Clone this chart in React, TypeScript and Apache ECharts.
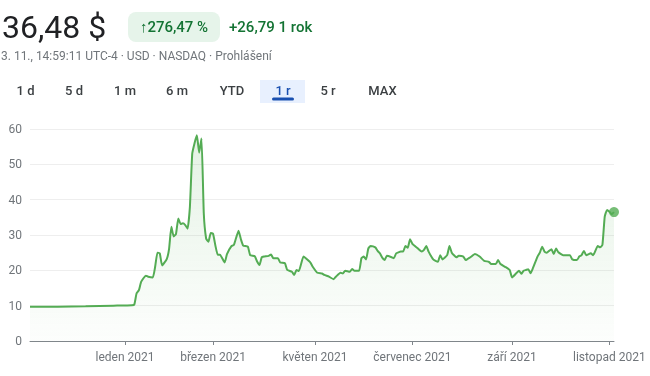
import React, { useEffect, useRef } from "react";
import * as echarts from "echarts";

// trading-day index counted from 3. 11. 2020 (index 0) to 3. 11. 2021 (index 252)
const DAY_IDX = [0,12,24,36,44,45,46,47,48,50,51,53,54,55,56,57,59,60,61,62,63,64,65,66,67,68,69,70,71,72,73,74,75,76,77,78,79,80,81,82,84,85,87,88,90,91,92,94,95,97,98,99,100,101,103,104,105,107,108,110,111,113,114,115,116,118,119,121,122,124,126,127,129,131,132,134,135,136,138,139,140,142,143,144,145,146,147,149,150,151,152,153,154,156,157,158,160,161,162,163,164,165,167,169,170,171,172,174,176,177,178,180,181,182,184,185,187,188,190,192,194,196,198,199,201,202,203,205,207,208,210,211,212,213,214,215,216,217,219,220,221,222,223,224,225,226,227,228,230,232,233,234,236,237,238,239,240,242,243,245,246,247,248,249,250,251,252];
const PRICE = [9.69,9.72,9.85,10.0,10.1,10.3,13.5,14.4,16.8,18.5,18.2,18.0,21.0,25.0,24.8,21.4,23.2,26.0,32.3,29.6,30.3,34.7,33.1,33.3,32.8,31.8,38.0,53.0,56.0,58.2,53.3,57.3,36.0,29.0,28.1,30.6,30.3,27.0,24.4,24.4,22.2,24.6,26.9,27.2,31.2,28.8,27.0,26.7,24.3,24.0,22.5,21.5,23.7,23.9,24.1,24.5,23.4,23.4,22.2,22.0,20.1,19.6,18.7,20.1,19.8,23.9,23.4,22.2,21.0,19.3,19.1,18.7,18.2,17.5,18.2,19.3,19.1,19.9,19.6,20.4,19.9,19.9,23.4,23.9,23.1,26.2,26.9,26.5,25.5,24.8,23.6,22.9,24.1,23.7,23.4,24.8,25.3,25.3,26.9,26.4,28.8,27.5,26.4,25.3,25.8,26.9,25.3,23.1,22.4,24.3,23.1,24.3,26.9,25.0,23.7,24.1,23.9,22.9,23.7,24.6,23.9,22.7,22.4,21.8,21.8,22.9,21.8,21.0,20.1,18.0,19.3,19.9,19.0,19.9,20.1,20.3,19.2,20.6,23.9,25.0,26.7,25.3,25.0,25.5,26.0,24.6,26.2,25.1,24.3,24.3,24.3,23.1,22.9,23.9,24.3,25.5,24.3,24.8,24.3,26.9,26.5,27.2,35.2,37.1,36.6,35.9,36.48];

const X_TICK_IDX = [41, 79, 123, 165, 208, 250];
const X_TICK_LABELS = ["leden 2021", "březen 2021", "květen 2021", "červenec 2021", "září 2021", "listopad 2021"];
const Y_MIN = 0;
const Y_MAX = 60;
const Y_STEP = 10;

const PRICE_TEXT = "36,48 $";
const CHANGE_PCT_TEXT = "↑276,47 %";
const CHANGE_ABS_TEXT = "+26,79 1 rok";
const SUBLINE_TEXT = "3. 11., 14:59:11 UTC-4 · USD · NASDAQ · Prohlášení";
const TABS = ["1 d", "5 d", "1 m", "6 m", "YTD", "1 r", "5 r", "MAX"];
const SELECTED_TAB = "1 r";

const TAB_X = [25.5, 74, 125, 177, 232, 283, 328, 382.5];
const GREEN = "#137333";
const LINE = "#54ac54";
const FONT = "Roboto, Arial, sans-serif";

export default function App() {
  const ref = useRef<HTMLDivElement>(null);
  useEffect(() => {
    if (!ref.current) return;
    const chart = echarts.init(ref.current, null, { renderer: "svg" });
    const data = DAY_IDX.map((d, i) => [d, PRICE[i]]);
    const last = data[data.length - 1];

    const graphics: any[] = [
      { type: "text", left: undefined, x: 2, y: 26.5, style: { text: PRICE_TEXT, font: `32px ${FONT}`, fill: "#202124", verticalAlign: "middle" } },
      { type: "rect", shape: { x: 128, y: 12, width: 92, height: 30, r: 8 }, style: { fill: "#e6f4ea" } },
      { type: "text", x: 174, y: 27, style: { text: CHANGE_PCT_TEXT, font: `500 15px ${FONT}`, fill: GREEN, align: "center", verticalAlign: "middle" } },
      { type: "text", x: 229, y: 27, style: { text: CHANGE_ABS_TEXT, font: `500 15px ${FONT}`, fill: GREEN, verticalAlign: "middle" } },
      { type: "text", x: 1, y: 55.5, style: { text: SUBLINE_TEXT, font: `12px ${FONT}`, fill: "#70757a", verticalAlign: "middle" } },
      { type: "rect", shape: { x: 260, y: 80, width: 45, height: 23, r: 0 }, style: { fill: "#e8f0fe" } },
      { type: "rect", shape: { x: 272, y: 97.5, width: 22, height: 3, r: 1.5 }, style: { fill: "#1a50b0" } },
    ];
    TABS.forEach((t, i) => {
      graphics.push({
        type: "text",
        x: TAB_X[i],
        y: 90,
        style: {
          text: t,
          font: `500 13px ${FONT}`,
          fill: t === SELECTED_TAB ? "#1a50b0" : "#3c4043",
          align: "center",
          verticalAlign: "middle",
        },
      });
    });

    chart.setOption({
      animation: false,
      graphic: graphics,
      grid: { left: 30, right: 36, top: 129, bottom: 35, containLabel: false, outerBoundsMode: "none" },
      xAxis: {
        type: "value",
        min: 0,
        max: 252,
        splitLine: { show: false },
        axisLine: { show: true, onZero: false, lineStyle: { color: "#80868b", width: 1 } },
        axisTick: { show: true, length: 4, customValues: X_TICK_IDX, lineStyle: { color: "#80868b" } },
        axisLabel: {
          customValues: X_TICK_IDX,
          color: "#70757a",
          fontSize: 12,
          fontFamily: FONT,
          margin: 10,
          formatter: (v: number) => {
            const i = X_TICK_IDX.indexOf(Math.round(v));
            return i >= 0 ? X_TICK_LABELS[i] : "";
          },
        },
      },
      yAxis: {
        type: "value",
        min: Y_MIN,
        max: Y_MAX,
        interval: Y_STEP,
        axisLine: { show: false },
        axisTick: { show: false },
        splitLine: { lineStyle: { color: "#eeeeee", width: 1 } },
        axisLabel: { color: "#70757a", fontSize: 12, fontFamily: FONT, margin: 8 },
      },
      series: [
        {
          type: "line",
          data,
          showSymbol: false,
          smooth: 0.15,
          lineStyle: { color: LINE, width: 2 },
          areaStyle: {
            color: new echarts.graphic.LinearGradient(0, 0, 0, 1, [
              { offset: 0, color: "rgba(84,172,84,0.22)" },
              { offset: 1, color: "rgba(84,172,84,0.02)" },
            ]),
          },
          z: 2,
        },
        {
          type: "scatter",
          data: [last],
          symbol: "circle",
          symbolSize: 10,
          itemStyle: { color: LINE },
          z: 3,
        },
      ],
    });
    return () => chart.dispose();
  }, []);
  return <div ref={ref} style={{ position: "fixed", left: 0, top: 0, width: 650, height: 376 }} />;
}
